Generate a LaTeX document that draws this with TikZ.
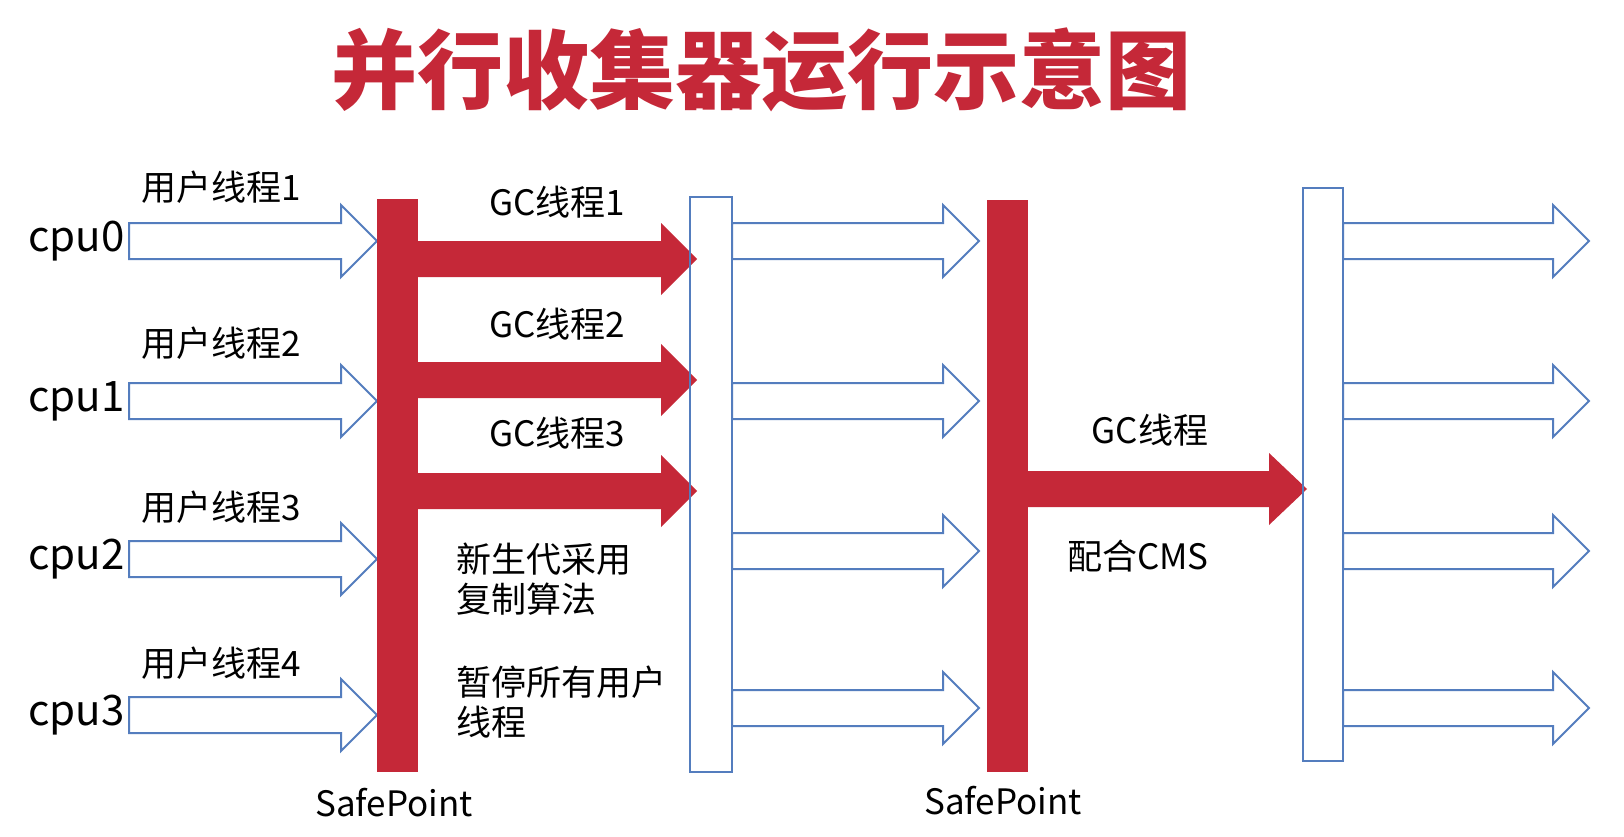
\documentclass[tikz,border=0pt]{standalone}
\usepackage{fontspec}
\setmainfont{Noto Sans CJK SC}
\definecolor{gcred}{RGB}{197,40,56}
\definecolor{threadblue}{RGB}{84,125,190}
\begin{document}
\begin{tikzpicture}[x=1pt,y=-1pt,
    lbl/.style={font=\fontsize{35}{40}\selectfont,inner sep=0pt},
    thread/.style={draw=threadblue,line width=2pt,fill=white},
    box/.style={draw=threadblue,line width=2pt}]
    \useasboundingbox[fill=white] (0,0) rectangle (1624,837);

    \node[text=gcred,font=\fontsize{86}{86}\selectfont\bfseries] (title) at (761,70) {并行收集器运行示意图};

    % user threads up to the first safepoint
    \foreach \y/\i in {241/0,401/1,559/2,715/3} {
      \draw[thread] (129,\y-18) -- (341,\y-18) -- (341,\y-36) -- (377,\y) -- (341,\y+36) -- (341,\y+18) -- (129,\y+18) -- cycle;
      \node[lbl,font=\fontsize{42}{42}\selectfont,anchor=west] (cpu\i) at (28,\y) {cpu\i};
    }
    \foreach \y/\n in {187/1,343/2,507/3,663/4}
      \node[lbl] (user\n) at (221,\y) {用户线程\n};

    % first safepoint, young generation gc threads
    \fill[gcred] (377,199) rectangle (418,772);
    \foreach \y in {259,380,491}
      \fill[gcred] (417,\y-18) -- (661,\y-18) -- (661,\y-36) -- (697,\y) -- (661,\y+36) -- (661,\y+18) -- (417,\y+18) -- cycle;
    \foreach \y/\n in {202/1,324/2,433/3}
      \node[lbl] (gc\n) at (557,\y) {GC线程\n};
    \draw[box] (690,197) rectangle (732,772);

    \node[lbl,align=left,anchor=west] (copy) at (456,579) {新生代采用\\复制算法};
    \node[lbl,align=left,anchor=west] (pause) at (456,702) {暂停所有用户\\线程};
    \node[lbl] (sp1) at (394,803) {SafePoint};

    % user threads again
    \foreach \y in {241,401,551,708}
      \draw[thread] (732,\y-18) -- (943,\y-18) -- (943,\y-36) -- (979,\y) -- (943,\y+36) -- (943,\y+18) -- (732,\y+18) -- cycle;

    % second safepoint, old generation gc thread
    \fill[gcred] (987,200) rectangle (1028,772);
    \fill[gcred] (1027,471) -- (1269,471) -- (1269,453) -- (1307,489) -- (1269,525) -- (1269,507) -- (1027,507) -- cycle;
    \draw[box] (1303,188) rectangle (1343,761);
    \node[lbl] (gc) at (1150,430) {GC线程};
    \node[lbl] (cms) at (1138,556) {配合CMS};
    \node[lbl] (sp2) at (1003,801) {SafePoint};

    \foreach \y in {241,401,551,708}
      \draw[thread] (1343,\y-18) -- (1553,\y-18) -- (1553,\y-36) -- (1589,\y) -- (1553,\y+36) -- (1553,\y+18) -- (1343,\y+18) -- cycle;
  \end{tikzpicture}
\end{document}
